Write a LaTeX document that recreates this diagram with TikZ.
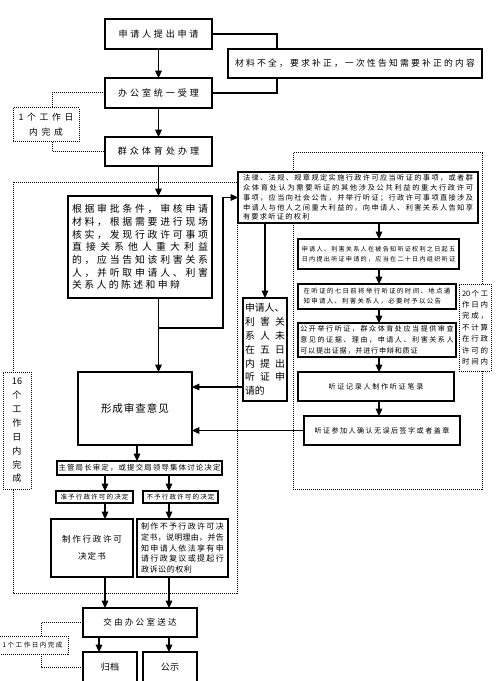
\documentclass[tikz,border=0pt]{standalone}
\usepackage{fontspec}
\newfontfamily\cjk{Noto Sans CJK SC}
\usetikzlibrary{arrows.meta}
\def\J#1#2{\hbox to #1{\Jx#2\relax}}
\def\Jx#1{\ifx#1\relax\else#1\expandafter\Jy\fi}
\def\Jy#1{\ifx#1\relax\else\hfil#1\expandafter\Jy\fi}
\newcommand\bx[7]{\node[#6,minimum width={(#4-(#2))*0.75pt},minimum height={(#5-(#3))*0.75pt}] (#1) at ({(#2+#4)/2},{(#3+#5)/2}) {#7};}
\tikzset{
  box/.style={draw,line width=0.9pt,fill=white,inner sep=0pt,outer sep=0pt},
  dbox/.style={draw,line width=0.75pt,dash pattern=on 0.75pt off 0.75pt,fill=white,inner sep=0pt,outer sep=0pt},
  fz/.style 2 args={font={\cjk\fontsize{#1pt}{#2pt}\selectfont}},
  ln/.style={line width=0.8pt},
  arr/.style={line width=0.8pt,-{Triangle[length=5.5pt,width=5pt]}},
  dl/.style={line width=0.75pt,dash pattern=on 0.75pt off 0.75pt},
}
\begin{document}
\begin{tikzpicture}[x=0.75pt,y=-0.75pt]
\useasboundingbox (0,0) rectangle (497,681);
\fill[white] (0,0) rectangle (497,681);
% frames
\draw[dl] (13,182) rectangle (237,593);
\draw[dl] (293,153) rectangle (482,489);
% nodes
\bx{b1}{105}{19}{212}{49}{box,fz={6.8}{9}}{\J{60pt}{申请人提出申请}}
\bx{b2}{228}{49}{482}{78}{box,fz={6.6}{9}}{\J{180pt}{材料不全，要求补正，一次性告知需要补正的内容}}
\bx{b3}{105}{78}{212}{108}{box,fz={6.8}{9}}{\J{60.5pt}{办公室统一受理}}
\bx{b4}{105}{137}{212}{166}{box,fz={6.8}{9}}{\J{61pt}{群众体育处办理}}
\bx{n1}{13}{108}{79}{142}{dbox,fz={6.6}{11.25},align=center}{\J{41pt}{1个工作日}\\\J{25.5pt}{内完成}}
\bx{b5}{68}{196}{212}{298}{box,fz={7.4}{9.5},align=left}{\J{102pt}{根据审批条件，审核申请}\\\J{102pt}{材料，根据需要进行现场}\\\J{102pt}{核实，发现行政许可事项}\\\J{102pt}{直接关系他人重大利益}\\\J{102pt}{的，应当告知该利害关系}\\\J{102pt}{人，并听取申请人、利害}\\\J{81pt}{关系人的陈述和申辩}}
\bx{b6}{238}{172}{478}{223}{box,fz={5.4}{7.3},align=left}{\J{172.5pt}{法律、法规、规章规定实施行政许可应当听证的事项，或者群}\\\J{172.5pt}{众体育处认为需要听证的其他涉及公共利益的重大行政许可}\\\J{172.5pt}{事项，应当向社会公告，并举行听证；行政许可事项直接涉及}\\\J{172.5pt}{申请人与他人之间重大利益的，向申请人、利害关系人告知享}\\\J{50pt}{有要求听证的权利}}
\bx{b7}{243}{298}{287}{401}{box,fz={7.4}{10.35},align=left}{申请人、\\\J{30pt}{利害关}\\\J{30pt}{系人未}\\\J{30pt}{在五日}\\\J{30pt}{内提出}\\\J{30pt}{听证申}\\请的}
\bx{b8a}{298}{239}{459}{269}{box,fz={4.6}{7.5},align=left}{\J{115pt}{申请人、利害关系人在被告知听证权利之日起五}\\\J{115pt}{日内提出听证申请的，应当在二十日内组织听证}}
\bx{b8b}{298}{284}{456}{309}{box,fz={4.8}{7.5},align=left}{\J{110pt}{在听证的七日前将举行听证的时间、地点通}\\\J{103pt}{知申请人、利害关系人，必要时予以公告}}
\bx{b8c}{298}{323}{456}{357}{box,fz={5.3}{8.25},align=left}{\J{115pt}{公开举行听证，群众体育处应当提供审查}\\\J{115pt}{意见的证据、理由，申请人、利害关系人}\\\J{88pt}{可以提出证据，并进行申辩和质证}}
\bx{b8d}{298}{372}{454}{401}{box,fz={5.3}{7}}{\J{71pt}{听证记录人制作听证笔录}}
\bx{b8e}{304}{416}{460}{445}{box,fz={5.3}{7}}{\J{101pt}{听证参加人确认无误后签字或者盖章}}
\bx{n20}{459}{284}{491}{371}{dbox,fz={5.6}{8.55},align=left}{\hbox to 19.5pt{20\hfil 个\hfil 工}\\\J{19.5pt}{作日内}\\\J{19.5pt}{完成，}\\\J{19.5pt}{不计算}\\\J{19.5pt}{在行政}\\\J{19.5pt}{许可的}\\\J{19.5pt}{时间内}}
\bx{b9}{78}{372}{192}{445}{box,fz={7.9}{10}}{\J{51pt}{形成审查意见}}
\bx{n16}{3}{372}{31}{489}{dbox,fz={6.8}{10.4},align=center}{16\\个\\工\\作\\日\\内\\完\\成}
\bx{b10}{57}{461}{222}{475}{box,fz={5.6}{7}}{\J{121.5pt}{主管局长审定，或提交局领导集体讨论决定}}
\bx{b11}{56}{491}{133}{503}{box,fz={4.9}{6}}{\J{51pt}{准予行政许可的决定}}
\bx{b12}{143}{491}{218}{503}{box,fz={4.9}{6}}{\J{51pt}{不予行政许可的决定}}
\bx{b13}{51}{519}{133}{577}{box,fz={6.4}{12.75},align=center}{\J{45pt}{制作行政许可}\\\J{21pt}{决定书}}
\bx{b14}{137}{519}{228}{577}{box,fz={6}{8.1},align=left}{\J{62pt}{制作不予行政许可决}\\\J{62pt}{定书，说明理由，并告}\\\J{62pt}{知申请人依法享有申}\\\J{62pt}{请行政复议或提起行}\\\J{38pt}{政诉讼的权利}}
\bx{b15}{83}{608}{197}{637}{box,fz={6.4}{8}}{\J{55pt}{交由办公室送达}}
\bx{b16}{83}{652}{137}{682}{box,fz={6.8}{8}}{归档}
\bx{b17}{143}{652}{197}{682}{box,fz={6.8}{8}}{公示}
\bx{n2}{-3}{636}{68}{654}{dbox,fz={4.9}{6}}{\J{45pt}{1个工作日内完成}}
% helper coordinates
\coordinate (c1) at (277,0);
\coordinate (cd1) at (52,0);
\coordinate (j1) at (159,328);
\coordinate (k1) at (223,0);
\coordinate (r1) at (0,387);
\coordinate (ax) at (379,0);
\coordinate (ax1) at (105,0);
\coordinate (ax2) at (169,0);
\coordinate (ax3) at (99,0);
\coordinate (ax4) at (137,0);
\coordinate (cd2) at (41,0);
% connectors
\draw[ln] (b1.east) -| (c1 |- b2.north);
\draw[ln] (b3.east) -| (c1 |- b2.south);
\draw[arr] (b1.south) -- (b3.north);
\draw[arr] (b3.south) -- (b4.north);
\draw[dl] (b3.west) -| (cd1 |- n1.north);
\draw[dl] (cd1 |- n1.south) |- (b4.west);
\draw[arr] (b4.south) -- (b4.south |- b5.north);
\draw[arr] (b4.south |- b5.south) -- (b4.south |- b9.north);
\draw[arr] (j1) -| (k1 |- b6.west) -- (b6.west);
\draw[arr] (b7.north |- b6.south) -- (b7.north);
\draw[arr] (ax |- b6.south) -- (ax |- b8a.north);
\draw[arr] (ax |- b8a.south) -- (ax |- b8b.north);
\draw[arr] (ax |- b8b.south) -- (ax |- b8c.north);
\draw[arr] (ax |- b8c.south) -- (ax |- b8d.north);
\draw[arr] (ax |- b8d.south) -- (ax |- b8e.north);
\draw[arr] (b7.west |- r1) -- (b9.east |- r1);
\draw[arr] (b8e.west) -- (b8e.west -| b9.east);
\draw[arr] (ax4 |- b9.south) -- (ax4 |- b10.north);
\draw[arr] (ax1 |- b10.south) -- (ax1 |- b11.north);
\draw[arr] (ax2 |- b10.south) -- (ax2 |- b12.north);
\draw[arr] (ax1 |- b11.south) -- (ax1 |- b13.north);
\draw[arr] (ax2 |- b12.south) -- (ax2 |- b14.north);
\draw[arr] (ax1 |- b13.south) -- (ax1 |- b15.north);
\draw[arr] (ax2 |- b14.south) -- (ax2 |- b15.north);
\draw[arr] (ax3 |- b15.south) -- (ax3 |- b16.north);
\draw[arr] (ax2 |- b15.south) -- (ax2 |- b17.north);
\draw[dl] (b15.west) -| (cd2 |- n2.north);
\draw[dl] (cd2 |- n2.south) |- (b16.west);
\end{tikzpicture}
\end{document}
